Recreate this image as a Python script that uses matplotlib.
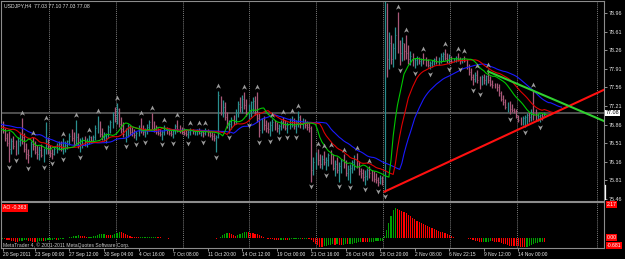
import numpy as np
import matplotlib
matplotlib.use("Agg")
import matplotlib.pyplot as plt
import matplotlib.transforms as mtransforms
from matplotlib.path import Path

plt.rcParams['font.family'] = ['Liberation Sans', 'DejaVu Sans']

# ---- data (USDJPY H4) ----
title_text = "USDJPY,H4  77.03 77.10 77.03 77.08"
ao_text = "AO -0.363"
copyright_text = "MetaTrader 4, \u00a9 2001-2011 MetaQuotes Software Corp."

# median prices before the first visible bar (only needed to warm up the indicators)
hist_median = [76.98, 77.02, 76.96, 76.92, 76.95, 77.00, 76.94, 76.90, 76.88, 76.92,
               76.95, 76.90, 76.86, 76.84, 76.88, 76.92, 76.90, 76.85, 76.82, 76.86,
               76.90, 76.88, 76.84, 76.80, 76.78, 76.82, 76.85, 76.80, 76.76, 76.72,
               76.75, 76.78, 76.74, 76.70, 76.68, 76.72]
first_open = 76.78

highs = [76.92, 76.80, 76.70, 76.74, 76.60, 76.65, 76.58, 76.62, 76.72, 76.99,
         76.70, 76.52, 76.40, 76.55, 76.62, 76.55, 76.48, 76.45, 76.50, 76.42,
         76.90, 76.62, 76.48, 76.40, 76.45, 76.52, 76.55, 76.56, 76.60, 76.55,
         76.58, 76.70, 76.78, 76.72, 76.95, 76.70, 76.60, 76.62, 76.64, 76.60,
         76.67, 76.64, 76.66, 76.85, 77.03, 76.92, 76.80, 76.72, 76.70, 76.85,
         76.95, 77.10, 77.20, 77.27, 77.18, 77.00, 76.90, 76.80, 76.88, 76.85,
         76.82, 76.78, 76.74, 76.85, 76.99, 76.86, 76.80, 76.88, 76.95, 77.08,
         76.92, 76.86, 76.80, 76.78, 76.76, 76.86, 76.82, 76.80, 76.76, 76.78,
         76.88, 76.95, 76.86, 76.82, 76.80, 76.78, 76.76, 76.80, 76.78, 76.76,
         76.78, 76.80, 76.76, 76.75, 76.80, 76.78, 76.74, 76.72, 76.70, 76.66,
         77.50, 77.40, 77.32, 77.28, 77.10, 76.95, 77.00, 77.05, 77.15, 77.30,
         77.38, 77.42, 77.48, 77.35, 77.25, 77.30, 77.38, 77.40, 77.48, 77.10,
         76.98, 77.02, 76.95, 76.90, 76.92, 76.96, 76.94, 76.90, 76.88, 76.95,
         77.00, 76.95, 76.90, 76.98, 77.02, 76.98, 76.94, 77.12, 77.05, 76.98,
         76.96, 76.92, 76.90, 76.84, 76.25, 76.35, 76.40, 76.30, 76.28, 76.36,
         76.25, 76.32, 76.38, 76.30, 76.20, 76.25, 76.15, 76.22, 76.30, 76.20,
         76.10, 76.12, 76.20, 76.28, 76.33, 76.18, 76.05, 76.02, 76.00, 76.05,
         76.08, 76.00, 75.98, 75.95, 75.88, 75.92, 75.90, 79.40, 79.14, 78.60,
         78.55, 78.40, 78.70, 78.98, 78.45, 78.50, 78.40, 78.55, 78.35, 78.25,
         78.20, 78.12, 78.15, 78.14, 78.12, 78.20, 78.14, 78.10, 78.06, 78.08,
         78.12, 78.15, 78.14, 78.20, 78.22, 78.28, 78.20, 78.18, 78.15, 78.12,
         78.16, 78.20, 78.14, 78.12, 78.15, 78.10, 78.00, 77.92, 77.82, 77.85,
         77.88, 77.78, 77.80, 77.82, 77.80, 77.90, 77.78, 77.70, 77.65, 77.64,
         77.62, 77.50, 77.42, 77.35, 77.28, 77.30, 77.25, 77.18, 77.15, 77.05,
         77.00, 77.02, 77.05, 77.08, 77.10, 77.15, 77.52, 77.15, 77.08, 77.06,
         77.08, 77.10]
lows = [76.70, 76.55, 76.45, 76.15, 76.30, 76.40, 76.28, 76.30, 76.45, 76.50,
        76.35, 76.22, 76.13, 76.25, 76.38, 76.30, 76.22, 76.20, 76.25, 76.16,
        76.30, 76.30, 76.26, 76.22, 76.28, 76.33, 76.38, 76.36, 76.30, 76.35,
        76.40, 76.48, 76.55, 76.45, 76.48, 76.42, 76.35, 76.42, 76.46, 76.44,
        76.50, 76.52, 76.54, 76.58, 76.70, 76.62, 76.58, 76.55, 76.52, 76.60,
        76.70, 76.80, 76.90, 76.88, 76.82, 76.70, 76.62, 76.54, 76.62, 76.66,
        76.64, 76.60, 76.58, 76.64, 76.70, 76.66, 76.63, 76.68, 76.74, 76.78,
        76.72, 76.68, 76.66, 76.64, 76.58, 76.66, 76.68, 76.66, 76.64, 76.61,
        76.68, 76.72, 76.70, 76.68, 76.66, 76.64, 76.60, 76.66, 76.68, 76.66,
        76.67, 76.68, 76.65, 76.63, 76.66, 76.64, 76.62, 76.58, 76.55, 76.35,
        76.60, 77.05, 77.00, 76.95, 76.80, 76.71, 76.78, 76.85, 76.88, 77.00,
        77.10, 77.08, 77.15, 77.02, 76.95, 77.00, 77.10, 77.05, 76.90, 76.63,
        76.70, 76.76, 76.72, 76.70, 76.65, 76.74, 76.76, 76.72, 76.69, 76.76,
        76.80, 76.75, 76.71, 76.78, 76.82, 76.78, 76.71, 76.82, 76.80, 76.78,
        76.80, 76.76, 76.72, 75.79, 75.92, 76.02, 76.10, 76.05, 76.02, 76.10,
        76.01, 76.08, 76.12, 76.00, 75.90, 75.95, 75.79, 75.95, 76.05, 75.90,
        75.82, 75.77, 75.95, 76.00, 76.05, 75.92, 75.85, 75.80, 75.73, 75.82,
        75.85, 75.80, 75.78, 75.76, 75.70, 75.74, 75.72, 75.60, 77.76, 77.90,
        78.00, 77.95, 78.10, 78.20, 77.98, 78.05, 78.08, 78.10, 78.00, 77.98,
        77.96, 77.92, 77.98, 78.00, 77.96, 78.00, 77.96, 77.94, 77.90, 77.95,
        77.98, 78.00, 77.98, 78.02, 78.05, 78.08, 78.02, 78.00, 78.01, 78.03,
        78.04, 78.05, 78.00, 78.02, 78.03, 77.90, 77.80, 77.70, 77.61, 77.66,
        77.64, 77.53, 77.60, 77.62, 77.60, 77.65, 77.58, 77.55, 77.54, 77.50,
        77.40, 77.30, 77.22, 77.15, 77.10, 77.06, 77.10, 77.08, 76.98, 76.90,
        76.86, 76.85, 76.82, 76.88, 76.90, 76.92, 76.95, 76.94, 76.93, 76.91,
        76.95, 77.03]
closes = [76.75, 76.60, 76.52, 76.40, 76.55, 76.45, 76.35, 76.55, 76.68, 76.62,
          76.40, 76.30, 76.28, 76.50, 76.45, 76.35, 76.30, 76.38, 76.28, 76.35,
          76.55, 76.35, 76.32, 76.30, 76.40, 76.45, 76.50, 76.42, 76.45, 76.48,
          76.55, 76.65, 76.60, 76.50, 76.62, 76.45, 76.50, 76.58, 76.52, 76.56,
          76.62, 76.58, 76.63, 76.80, 76.85, 76.68, 76.62, 76.65, 76.68, 76.82,
          76.90, 77.05, 76.98, 77.15, 76.88, 76.78, 76.68, 76.72, 76.80, 76.72,
          76.70, 76.66, 76.70, 76.80, 76.78, 76.72, 76.75, 76.82, 76.90, 76.85,
          76.76, 76.72, 76.70, 76.68, 76.72, 76.80, 76.74, 76.70, 76.68, 76.74,
          76.84, 76.78, 76.74, 76.72, 76.70, 76.68, 76.72, 76.76, 76.72, 76.74,
          76.75, 76.70, 76.72, 76.70, 76.74, 76.68, 76.66, 76.64, 76.60, 76.62,
          77.42, 77.12, 77.20, 77.00, 76.85, 76.88, 76.95, 76.90, 77.10, 77.25,
          77.20, 77.35, 77.22, 77.08, 77.15, 77.28, 77.30, 77.10, 76.98, 76.75,
          76.92, 76.85, 76.80, 76.78, 76.85, 76.90, 76.82, 76.80, 76.84, 76.90,
          76.88, 76.80, 76.86, 76.92, 76.95, 76.84, 76.90, 77.00, 76.88, 76.90,
          76.86, 76.82, 76.80, 76.00, 76.15, 76.28, 76.20, 76.12, 76.22, 76.15,
          76.20, 76.28, 76.18, 76.05, 76.12, 76.00, 76.08, 76.18, 76.10, 75.95,
          76.02, 76.05, 76.15, 76.22, 76.10, 75.98, 75.95, 75.88, 75.90, 76.00,
          75.95, 75.88, 75.84, 75.82, 75.78, 75.85, 75.80, 78.30, 78.10, 78.40,
          78.10, 78.30, 78.55, 78.30, 78.20, 78.40, 78.25, 78.20, 78.10, 78.15,
          78.05, 78.08, 78.12, 78.05, 78.10, 78.08, 78.00, 77.98, 78.02, 78.05,
          78.10, 78.05, 78.12, 78.15, 78.18, 78.12, 78.08, 78.10, 78.06, 78.08,
          78.12, 78.10, 78.05, 78.08, 78.06, 77.95, 77.85, 77.75, 77.72, 77.80,
          77.70, 77.65, 77.75, 77.70, 77.78, 77.70, 77.62, 77.60, 77.58, 77.56,
          77.45, 77.35, 77.28, 77.20, 77.22, 77.15, 77.14, 77.12, 77.02, 76.95,
          76.92, 76.98, 77.00, 77.04, 77.00, 77.10, 77.05, 77.00, 77.02, 77.04,
          77.03, 77.08]

# hand-drawn trend lines (bar index, price)
red_trend = [(177, 75.60), (263, 77.22)]
green_trend = [(225, 77.86), (263, 77.20)]

price_ticks = [78.96, 78.61, 78.26, 77.91, 77.56, 77.21, 76.86, 76.51, 76.16, 75.81, 75.46]
ao_max, ao_min = 2.17, -0.681

time_labels = ["20 Sep 2011", "23 Sep 00:00", "27 Sep 12:00", "30 Sep 04:00", "4 Oct 16:00",
               "7 Oct 08:00", "11 Oct 20:00", "14 Oct 12:00", "19 Oct 00:00", "21 Oct 16:00",
               "26 Oct 04:00", "28 Oct 20:00", "2 Nov 08:00", "6 Nov 22:15", "9 Nov 12:00",
               "14 Nov 00:00"]
time_bars = [0, 15, 31, 47, 63, 79, 95, 111, 127, 143, 159, 175, 191, 207, 223, 239]

# ---- indicators (Bill Williams set: Alligator, Fractals, AO) ----
H = np.array(highs)
L = np.array(lows)
C = np.array(closes)
O = np.r_[first_open, C[:-1]]
n = len(C)
nh = len(hist_median)
med = np.r_[hist_median, (H + L) / 2]
xall = np.arange(len(med)) - nh


def smma(x, p):
    out = np.full(len(x), np.nan)
    out[p - 1] = x[:p].mean()
    for k in range(p, len(x)):
        out[k] = (out[k - 1] * (p - 1) + x[k]) / p
    return out


def sma(x, p):
    out = np.full(len(x), np.nan)
    out[p - 1:] = np.convolve(x, np.ones(p) / p, mode='valid')
    return out


jaw = smma(med, 13)
teeth = smma(med, 8)
lips = smma(med, 5)
ao = sma(med, 5) - sma(med, 34)

up_fr = [i for i in range(2, n - 2) if H[i] > max(H[i - 2], H[i - 1], H[i + 1], H[i + 2])]
dn_fr = [i for i in range(2, n - 2) if L[i] < min(L[i - 2], L[i - 1], L[i + 1], L[i + 2])]

# ---- layout (pixel geometry of the screenshot) ----
W, HT = 625, 259
PX0, PXBAR = 2.6, 2.158      # pixel of bar 0 and pixels per bar


def rect(x0, y0, x1, y1):
    return [x0 / W, 1 - y1 / HT, (x1 - x0) / W, (y1 - y0) / HT]


def px2bar(px):
    return (px - PX0) / PXBAR


fig = plt.figure(figsize=(W / 100, HT / 100), dpi=100, facecolor='black')
ax = fig.add_axes(rect(1.5, 1, 604, 200.5), facecolor='black')
ax2 = fig.add_axes(rect(1.5, 202, 604, 248), facecolor='black', sharex=ax)

xlim = (px2bar(1.5), px2bar(604))
ax.set_xlim(xlim)
ax.set_ylim(75.433, 79.185)
ax2.set_ylim(ao_min, ao_max + (ao_max - ao_min) * 2.5 / 44)

for a in (ax, ax2):
    for s in a.spines.values():
        s.set_color('#8c8c8c')
        s.set_linewidth(0.8)
    for gx in [49, 116, 183, 249, 316, 383, 450, 517, 597]:
        a.axvline(px2bar(gx), color='#a8a8a8', lw=0.5, ls=(0, (1.5, 1.5)), zorder=0)

# current price line
ax.axhline(C[-1], color='#555555', lw=1.3, zorder=1)

# OHLC bars
x = np.arange(n)
up = C >= O
cols = np.where(up, '#2a8f8f', '#a85878')
ax.vlines(x, L, H, colors=cols, lw=0.9, zorder=2)
ax.hlines(C, x, x + 0.4, colors=cols, lw=0.5, zorder=2)

# alligator lines (shifted forward)
ax.plot(xall + 8, jaw, color='#1a1aff', lw=0.8, zorder=3)
ax.plot(xall + 5, teeth, color='#e00000', lw=0.8, zorder=3)
ax.plot(xall + 3, lips, color='#00c800', lw=0.8, zorder=3)

# fractals
up_arrow = Path([(0, 1), (0.85, -0.75), (0, -0.25), (-0.85, -0.75), (0, 1)],
                [Path.MOVETO, Path.LINETO, Path.LINETO, Path.LINETO, Path.CLOSEPOLY])
dn_arrow = Path([(0, -1), (0.85, 0.75), (0, 0.25), (-0.85, 0.75), (0, -1)],
                [Path.MOVETO, Path.LINETO, Path.LINETO, Path.LINETO, Path.CLOSEPOLY])
ax.plot(up_fr, H[up_fr] + 0.09, ls='none', marker=up_arrow, ms=4.2, mfc='#9c9c9c', mew=0, zorder=4)
ax.plot(dn_fr, L[dn_fr] - 0.09, ls='none', marker=dn_arrow, ms=4.2, mfc='#9c9c9c', mew=0, zorder=4)

# trend lines, drawn as rays to the right edge
for pts, col in ((red_trend, '#ff1010'), (green_trend, '#30d030')):
    (xa, ya), (xb, yb) = pts
    slope = (yb - ya) / (xb - xa)
    ax.plot([xa, xlim[1] + 5], [ya, ya + slope * (xlim[1] + 5 - xa)], color=col, lw=1.5, zorder=5)

# price axis
ax.yaxis.tick_right()
ax.set_yticks(price_ticks)
ax.set_yticklabels([f"{p:.2f}" for p in price_ticks])
ax.tick_params(axis='y', colors='#c8c8c8', labelcolor='#e8e8e8', labelsize=3.9, length=2, width=0.5, pad=1.5)
ax.tick_params(axis='x', bottom=False, labelbottom=False)

tr = mtransforms.blended_transform_factory(ax.transAxes, ax.transData)
ax.text(1.003, C[-1], f"{C[-1]:.2f}", transform=tr, fontsize=3.9, color='black', va='center', ha='left',
        bbox=dict(boxstyle='square,pad=0.15', fc='white', ec='white', lw=0))
# small white marker on the price scale near the bottom
ax.plot([1.002, 1.002], [75.47, 75.73], transform=tr, color='white', lw=0.9, clip_on=False)
fig.text(4 / W, 1 - 5.5 / HT, title_text, fontsize=3.7, color='#e0e0e0', va='center', ha='left')

# AO histogram
vis = ~np.isnan(ao) & (xall >= -1)
ao_v = ao[vis]
prev = np.r_[np.nan, ao][:-1][vis]
ao_cols = np.where(ao_v > prev, '#00a000', '#ff0000')
ax2.bar(xall[vis], ao_v, width=0.55, color=ao_cols, lw=0)
ax2.yaxis.tick_right()
ax2.set_yticks([])
tr2 = mtransforms.blended_transform_factory(ax2.transAxes, ax2.transData)
for val, txt, dy in ((ao_max, f"{ao_max:.2f}", 0.0), (0.0, "0.00", 0.0), (ao_min, f"{ao_min:.3f}", 0.16)):
    ax2.text(1.004, val + dy, txt, transform=tr2, fontsize=3.7, color='white', va='center', ha='left',
             bbox=dict(boxstyle='square,pad=0.15', fc='#ff0000', ec='#ff0000', lw=0))
ax2.text(0.003, 0.87, ao_text, transform=ax2.transAxes, fontsize=3.7, color='white', va='center', ha='left',
         bbox=dict(boxstyle='square,pad=0.2', fc='#ff0000', ec='#ff0000', lw=0))
ax2.text(0.003, 0.07, copyright_text, transform=ax2.transAxes, fontsize=3.6, color='#c8c8c8',
         va='center', ha='left')

ax2.set_xticks(time_bars)
ax2.set_xticklabels(time_labels)
for lbl in ax2.get_xticklabels():
    lbl.set_ha('left')
ax2.tick_params(axis='x', colors='#c8c8c8', labelcolor='#e8e8e8', labelsize=3.5, length=2, width=0.5, pad=1)

fig.savefig("out.png", dpi=100, facecolor='black')
